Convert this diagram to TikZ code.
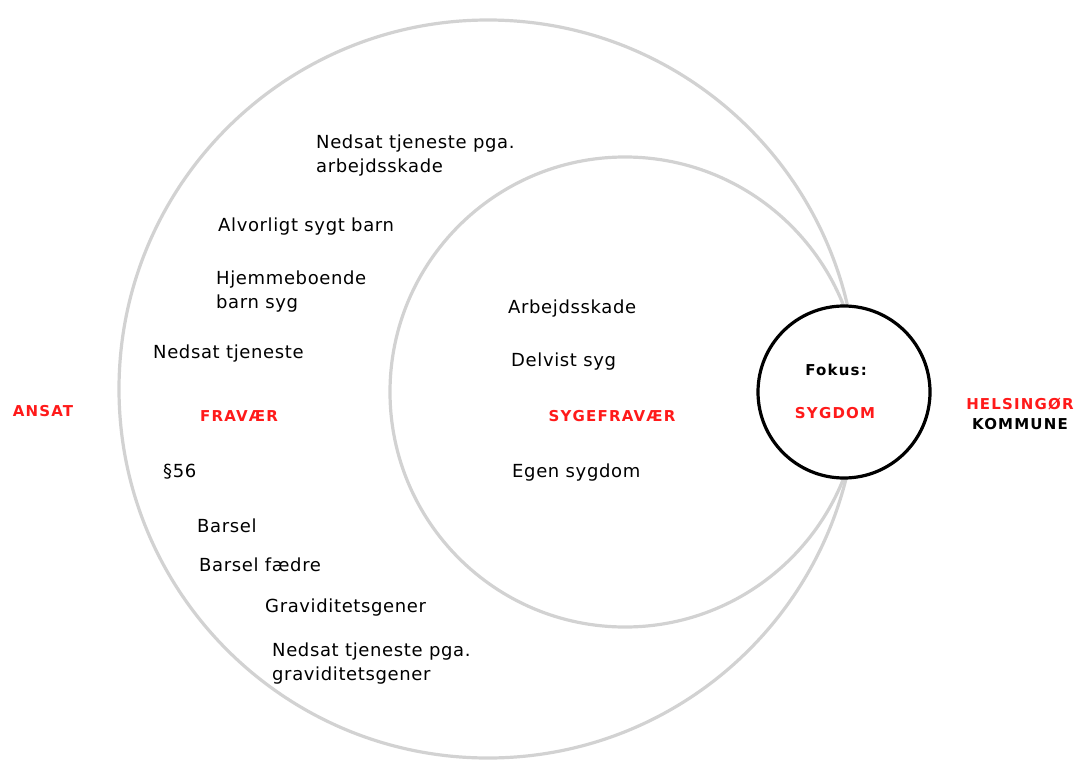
\documentclass[tikz,border=0pt]{standalone}
\usepackage{fontspec}
\setmainfont{DejaVu Sans}[LetterSpace=3.5]
\newfontfamily\lblfont{DejaVu Sans}[LetterSpace=8]
\definecolor{ringgray}{HTML}{D2D2D2}
\definecolor{lblred}{HTML}{FF1A1A}
\begin{document}
\begin{tikzpicture}[x=1pt,y=-1pt,
  ring/.style={circle,draw=ringgray,line width=3.2pt,inner sep=0pt},
  focusring/.style={circle,draw=black,fill=white,line width=3.2pt,inner sep=0pt},
  item/.style={anchor=west,inner sep=0pt,align=left,font=\fontsize{18}{24}\selectfont},
  redlbl/.style={inner sep=0pt,text=lblred,font=\lblfont\bfseries\fontsize{15}{20}\selectfont},
  blklbl/.style={inner sep=0pt,text=black,font=\lblfont\bfseries\fontsize{15}{20}\selectfont}]
\useasboundingbox (0,0) rectangle (1078,760);
\node[ring,minimum size=738pt] (big) at (488,389) {};
\node[ring,minimum size=470pt] (inner) at (625,392) {};
\node[focusring,minimum size=172pt] (focus) at (844,392) {};

\node[item] (n1) at (316,156) {Nedsat tjeneste pga.\\arbejdsskade};
\node[item] (n2) at (218,227) {Alvorligt sygt barn};
\node[item] (n3) at (216,292) {Hjemmeboende\\barn syg};
\node[item] (n4) at (153,354) {Nedsat tjeneste};
\node[item] (n5) at (163,472) {§56};
\node[item] (n6) at (197,526) {Barsel};
\node[item] (n7) at (199,565) {Barsel fædre};
\node[item] (n8) at (265,608) {Graviditetsgener};
\node[item] (n9) at (272,664) {Nedsat tjeneste pga.\\graviditetsgener};

\node[item] (s1) at (508,309) {Arbejdsskade};
\node[item] (s2) at (511,362) {Delvist syg};
\node[item] (s3) at (512,473) {Egen sygdom};

\node[redlbl] (fravaer) at (239,416) {FRAVÆR};
\node[redlbl] (sygefravaer) at (612,416) {SYGEFRAVÆR};
\node[redlbl] (ansat) at (43,411) {ANSAT};
\node[blklbl] (fokus) at (836,370) {Fokus:};
\node[redlbl] (sygdom) at (835,413) {SYGDOM};
\node[redlbl] (helsingor) at (1020,404) {HELSINGØR};
\node[blklbl] (kommune) at (1020,424) {KOMMUNE};
\end{tikzpicture}
\end{document}
